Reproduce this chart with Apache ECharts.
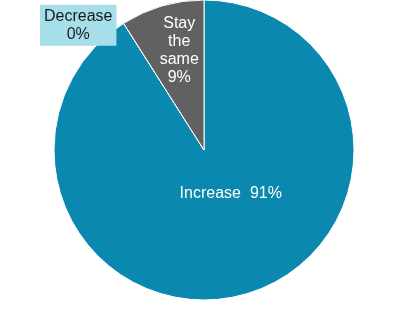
<!DOCTYPE html>
<html>
<head>
<meta charset="utf-8">
<script src="https://cdn.jsdelivr.net/npm/echarts@6/dist/echarts.min.js"></script>
<style>html,body{margin:0;padding:0;background:#fff}#c{width:409px;height:318px}</style>
</head>
<body>
<div id="c"></div>
<script>
var categories = ["Increase", "Decrease", "Stay the same"];
var values = [91, 0, 9];
var labelTexts = ["Increase  91%", "Decrease\n0%", "Stay\nthe\nsame\n9%"];

var colors = ["#0a88b0", "#a6dfea", "#616161"];
var labelStyles = [
  {color: "#ffffff", offset: [5, -31]},
  {color: "#1a1a1a", offset: [-84, -59], backgroundColor: "#a6dfea", padding: [3, 4, 2, 4]},
  {color: "#ffffff", offset: [-3, -25]}
];

var chart = echarts.init(document.getElementById('c'), null, {renderer: 'canvas'});
chart.setOption({
  animation: false,
  series: [{
    type: 'pie',
    center: [204, 150],
    radius: [0, 150],
    startAngle: 90,
    clockwise: true,
    avoidLabelOverlap: false,
    labelLine: {show: false},
    itemStyle: {borderColor: '#ffffff', borderWidth: 1},
    label: {
      show: true,
      position: 'inside',
      fontFamily: 'Liberation Sans, Arial, sans-serif',
      fontSize: 16,
      lineHeight: 18,
      align: 'center'
    },
    data: categories.map(function (c, i) {
      return {
        name: c,
        value: values[i],
        itemStyle: {color: colors[i]},
        label: Object.assign({formatter: labelTexts[i]}, labelStyles[i])
      };
    })
  }]
});
</script>
</body>
</html>
